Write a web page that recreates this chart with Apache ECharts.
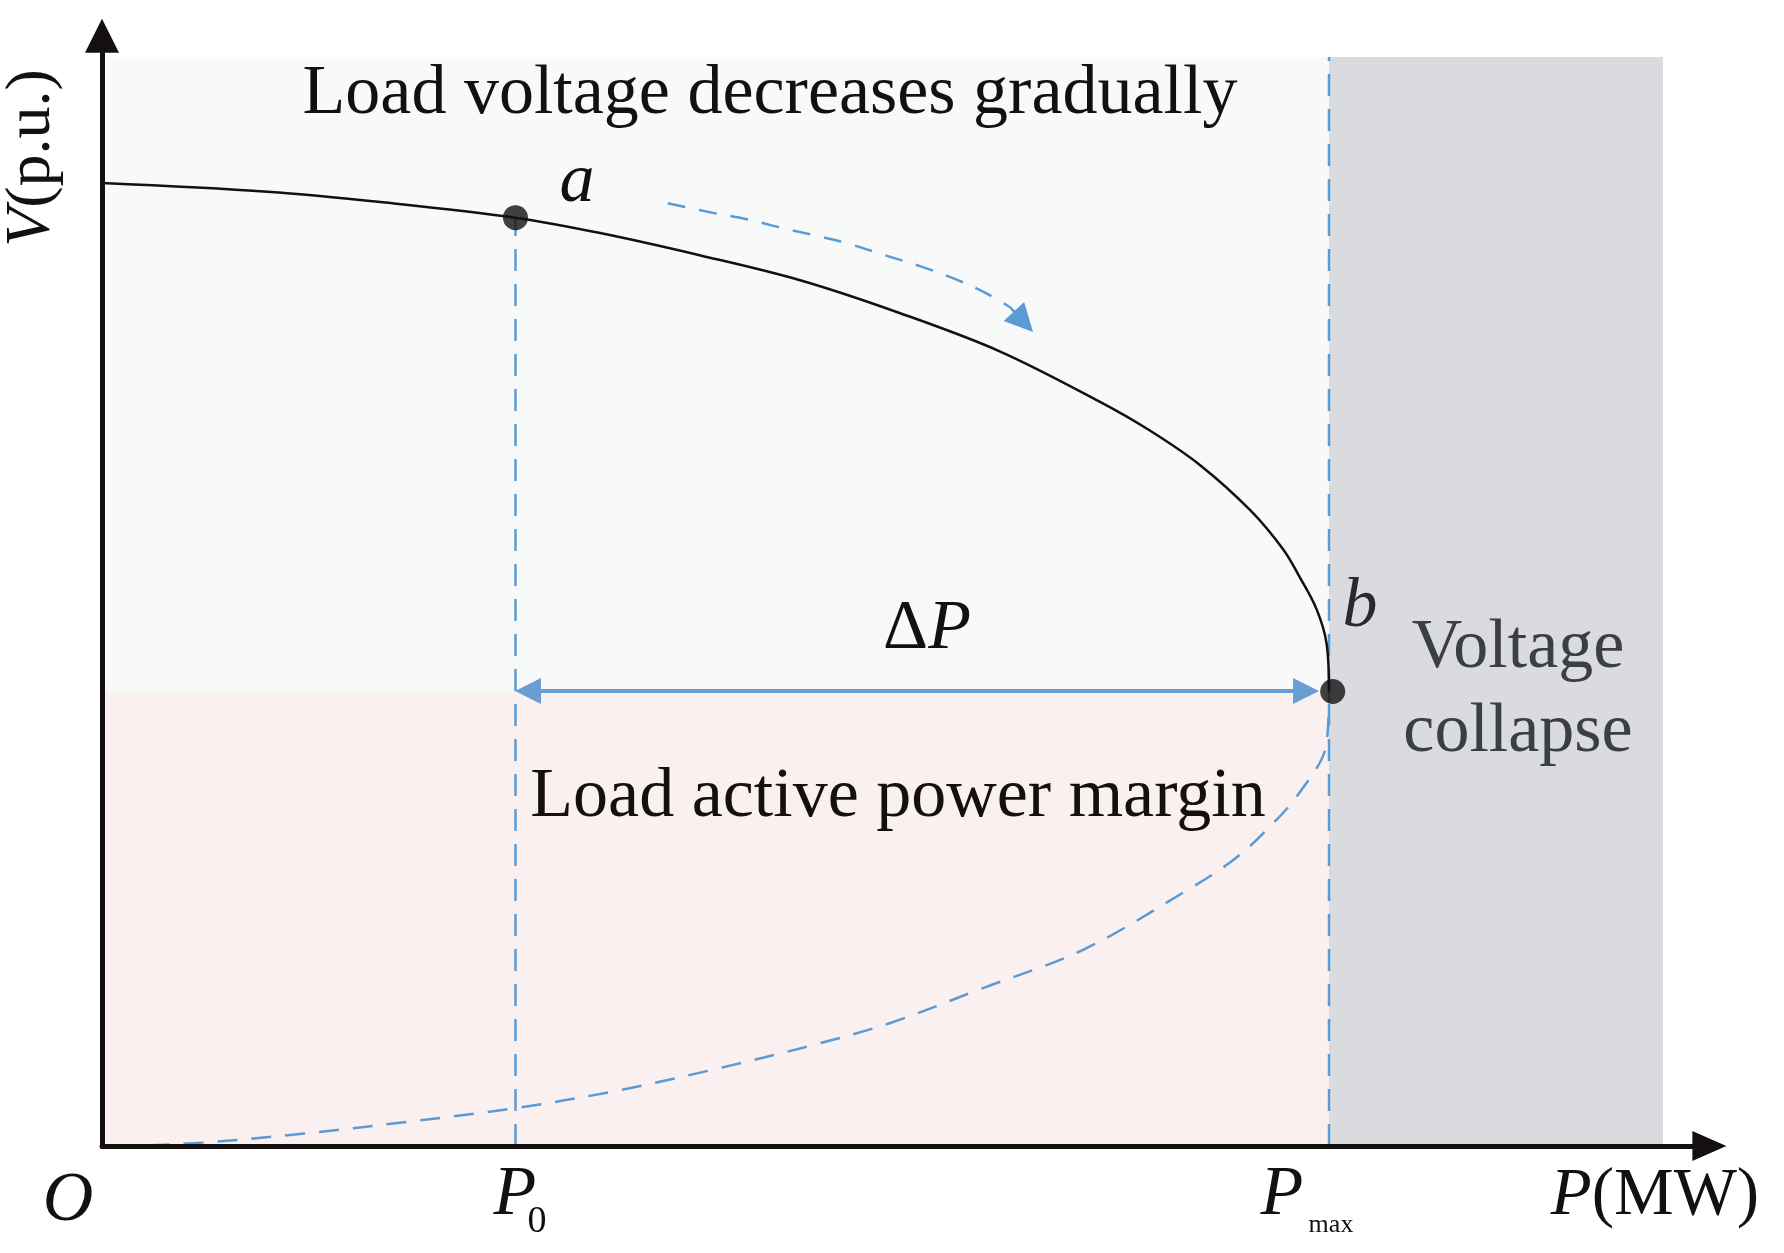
<!DOCTYPE html>
<html><head><meta charset="utf-8">
<script src="https://cdn.jsdelivr.net/npm/echarts@6/dist/echarts.min.js"></script>
<style>html,body{margin:0;padding:0;background:#fff}#c{width:1784px;height:1253px}</style>
</head><body><div id="c"></div>
<script>
// ---- data (P normalised to Pmax = 1, V in p.u.) ----
const upperBranch = [[0,1.000],[0.135,0.991],[0.229,0.980],[0.337,0.964],[0.406,0.948],[0.487,0.925],[0.569,0.899],[0.650,0.865],[0.732,0.825],[0.813,0.773],[0.854,0.743],[0.895,0.707],[0.936,0.660],[0.963,0.619],[0.976,0.591],[0.990,0.557],[0.998,0.522],[1.000,0.472]];
const lowerBranch = [[0.011,0.0],[0.077,0.003],[0.165,0.013],[0.248,0.025],[0.335,0.039],[0.414,0.056],[0.497,0.079],[0.580,0.105],[0.643,0.128],[0.718,0.164],[0.800,0.204],[0.881,0.263],[0.922,0.297],[0.949,0.328],[0.976,0.367],[0.998,0.418],[1.000,0.472]];
const directionArrow = [[0.461,0.979],[0.498,0.969],[0.527,0.962],[0.555,0.953],[0.583,0.945],[0.611,0.936],[0.638,0.925],[0.666,0.914],[0.694,0.901],[0.720,0.886],[0.740,0.871]];
const directionArrowHead = [[0.740,0.871],[0.751,0.856]];
const P0 = 0.337;
const Pmax = 1.0;
const pointA = [0.337, 0.964];
const pointB = [1.003, 0.472];
const Vnose = 0.472;
const marginArrow = [[0.3472, 0.4725], [0.9813, 0.4725]];
const regionTop = 1.1308;
const regionRight = 1.2722;
const xMax = 1.31, yMax = 1.153;

const serif = '"Liberation Serif","Times New Roman",serif';
const blue = '#5b9bd5';
const chart = echarts.init(document.getElementById('c'), null, {renderer: 'canvas'});

function txt(text, x, y, size, opts) {
  opts = opts || {};
  return {
    type: 'text', x: x, y: y, rotation: opts.rot || 0, z: 100,
    style: {
      text: text, fill: opts.fill || '#141010',
      font: (opts.italic ? 'italic ' : '') + size + 'px ' + serif,
      align: 'center', verticalAlign: 'middle',
      rich: opts.rich
    }
  };
}

const option = {
  animation: false,
  backgroundColor: '#ffffff',
  grid: {left: 102, bottom: 107, width: xMax * 1227, height: yMax * 963, containLabel: false},
  xAxis: {
    type: 'value', min: 0, max: xMax, z: 10,
    axisLine: {show: true, onZero: false, symbol: ['none', 'triangle'], symbolSize: [30, 34],
      lineStyle: {color: '#141010', width: 5}},
    axisTick: {show: false}, axisLabel: {show: false}, splitLine: {show: false}
  },
  yAxis: {
    type: 'value', min: 0, max: yMax, z: 10,
    axisLine: {show: true, onZero: false, symbol: ['none', 'triangle'], symbolSize: [34, 34],
      lineStyle: {color: '#141010', width: 5}},
    axisTick: {show: false}, axisLabel: {show: false}, splitLine: {show: false}
  },
  series: [
    {
      type: 'line', data: [], z: 1, silent: true,
      markArea: {
        silent: true, label: {show: false},
        data: [
          [{coord: [0, Vnose], itemStyle: {color: '#f7faf8', opacity: 1}}, {coord: [Pmax, regionTop]}],
          [{coord: [0, 0], itemStyle: {color: '#fbf0f0', opacity: 1}}, {coord: [Pmax, Vnose]}],
          [{coord: [Pmax, 0], itemStyle: {color: '#d9dbde', opacity: 1}}, {coord: [regionRight, regionTop]}]
        ]
      }
    },
    {
      type: 'line', z: 3, silent: true, symbol: 'none',
      data: [[P0, 0], [P0, pointA[1]]],
      lineStyle: {color: blue, width: 2.5, type: [22, 13]}
    },
    {
      type: 'line', z: 3, silent: true, symbol: 'none',
      data: [[Pmax, 0], [Pmax, regionTop]],
      lineStyle: {color: blue, width: 2.5, type: [22, 13]}
    },
    {
      type: 'line', z: 4, silent: true, symbol: 'none', smooth: 0.35,
      data: lowerBranch,
      lineStyle: {color: blue, width: 2.5, type: [20, 14]}
    },
    {
      type: 'line', z: 5, silent: true, symbol: 'none', smooth: 0.35,
      data: upperBranch,
      lineStyle: {color: '#111111', width: 2.5}
    },
    {
      type: 'line', z: 4, silent: true, symbol: 'none', smooth: 0.35,
      data: directionArrow,
      lineStyle: {color: blue, width: 2.5, type: [18, 14]}
    },
    {
      type: 'lines', coordinateSystem: 'cartesian2d', z: 4, silent: true,
      symbol: ['none', 'triangle'], symbolSize: [24, 28],
      lineStyle: {color: blue, width: 2.5, opacity: 1},
      data: [{coords: directionArrowHead}]
    },
    {
      type: 'lines', coordinateSystem: 'cartesian2d', z: 6, silent: true,
      symbol: ['triangle', 'triangle'], symbolSize: [26, 26],
      lineStyle: {color: '#6a9dd3', width: 4, opacity: 1},
      data: [{coords: marginArrow}]
    },
    {
      type: 'scatter', z: 8, silent: true, symbol: 'circle', symbolSize: 25,
      itemStyle: {color: '#111111'},
      data: [pointA, pointB]
    }
  ],
  graphic: [
    txt('Load voltage decreases gradually', 770, 95, 70),
    txt('Load active power margin', 898, 798, 70),
    txt('Voltage', 1518, 649, 70, {fill: '#3b3e44'}),
    txt('collapse', 1518, 733, 70, {fill: '#3b3e44'}),
    txt('{d|Δ}{p|P}', 927, 630, 70, {rich: {
      d: {font: '70px ' + serif, fill: '#141010'},
      p: {font: 'italic 70px ' + serif, fill: '#141010'}}}),
    txt('a', 577, 183, 70, {italic: true}),
    txt('b', 1360, 608, 70, {italic: true, fill: '#2a2a2e'}),
    txt('O', 68, 1202, 70, {italic: true}),
    txt('P', 515, 1196, 70, {italic: true}),
    txt('0', 537, 1222, 38),
    txt('P', 1282, 1196, 70, {italic: true}),
    txt('max', 1331, 1225, 26),
    txt('{p|P}{r|(MW)}', 1655, 1196, 67, {rich: {
      p: {font: 'italic 67px ' + serif, fill: '#141010'},
      r: {font: '67px ' + serif, fill: '#141010'}}}),
    txt('{v|V}{r|(p.u.)}', 32, 158, 64, {rot: Math.PI / 2, rich: {
      v: {font: 'italic 64px ' + serif, fill: '#141010'},
      r: {font: '64px ' + serif, fill: '#141010'}}})
  ]
};
chart.setOption(option);
</script></body></html>
